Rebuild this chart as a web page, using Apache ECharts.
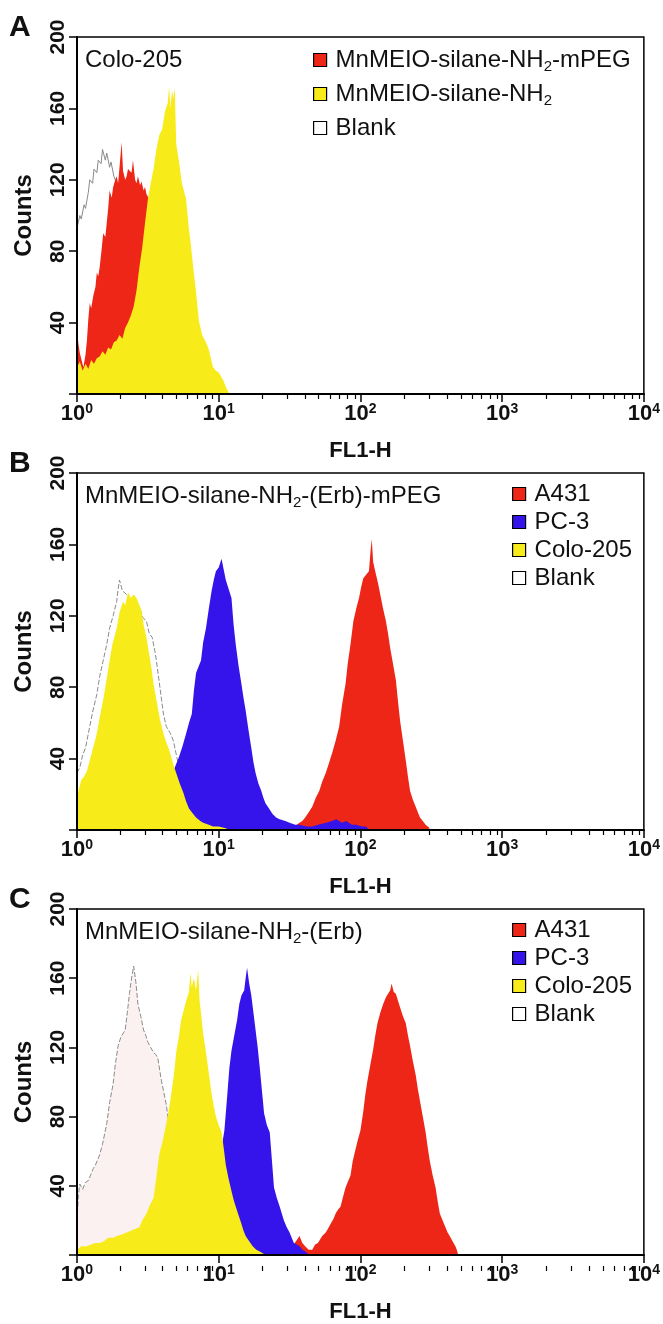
<!DOCTYPE html>
<html><head><meta charset="utf-8">
<script src="https://cdn.jsdelivr.net/npm/echarts@6/dist/echarts.min.js"></script>
<style>html,body{margin:0;padding:0;background:#fff}#c{width:663px;height:1324px}</style>
</head><body><div id="c"></div><script>
// Each series: pairs [log10(FL1-H), Counts]
const a_blank = [[0,93],[0.02,100],[0.03,98],[0.05,106],[0.06,104],[0.08,113],[0.09,120],[0.11,118],[0.12,126],[0.14,124],[0.15,131],[0.17,129],[0.18,137],[0.20,131],[0.21,135],[0.23,127],[0.24,130],[0.26,122],[0.28,118],[0.30,110],[0.35,92],[0.40,62],[0.50,30],[0.60,10],[0.70,0]];
const a_mpeg = [[0,36],[0.01,28],[0.02,23],[0.035,18],[0.045,15],[0.06,22],[0.07,30],[0.08,42],[0.09,51],[0.10,48],[0.115,55],[0.13,60],[0.14,68],[0.15,66],[0.16,71],[0.175,82],[0.185,90],[0.20,88],[0.21,96],[0.22,104],[0.23,114],[0.245,110],[0.255,116],[0.27,120],[0.28,122],[0.29,118],[0.30,127],[0.315,141],[0.325,125],[0.34,120],[0.35,122],[0.36,126],[0.37,127],[0.385,124],[0.395,131],[0.41,120],[0.42,118],[0.43,122],[0.445,117],[0.455,119],[0.47,114],[0.48,116],[0.49,112],[0.51,109],[0.55,100],[0.60,80],[0.65,50],[0.70,25],[0.75,8],[0.80,0]];
const a_nh2 = [[0,15],[0.02,18],[0.04,13],[0.06,17],[0.08,14],[0.10,19],[0.12,17],[0.14,20],[0.16,21],[0.18,24],[0.20,22],[0.22,26],[0.24,25],[0.26,29],[0.28,30],[0.30,33],[0.32,31],[0.34,37],[0.36,40],[0.38,44],[0.40,49],[0.42,58],[0.44,71],[0.46,82],[0.48,96],[0.50,109],[0.52,118],[0.54,126],[0.56,137],[0.58,145],[0.60,148],[0.62,158],[0.64,163],[0.65,172],[0.66,160],[0.67,170],[0.68,166],[0.69,171],[0.70,140],[0.72,130],[0.74,118],[0.76,112],[0.77,109],[0.79,92],[0.80,86],[0.82,71],[0.84,57],[0.86,41],[0.88,34],[0.89,32],[0.91,29],[0.93,25],[0.96,15],[0.98,13],[1.00,12],[1.03,8],[1.05,4],[1.075,0]];

const b_blank = [[0,32],[0.02,35],[0.04,42],[0.06,46],[0.09,58],[0.11,66],[0.14,76],[0.16,86],[0.185,95],[0.21,104],[0.23,113],[0.255,120],[0.28,128],[0.29,135],[0.30,140],[0.32,134],[0.35,132],[0.37,128],[0.40,130],[0.42,124],[0.44,125],[0.465,119],[0.49,117],[0.51,110],[0.53,108],[0.55,100],[0.56,95],[0.585,80],[0.61,65],[0.63,58],[0.66,54],[0.68,50],[0.72,35],[0.78,18],[0.85,6],[0.95,0]];
const b_colo = [[0,17],[0.01,22],[0.03,28],[0.05,30],[0.07,33],[0.09,39],[0.11,45],[0.14,54],[0.16,63],[0.185,73],[0.21,85],[0.23,95],[0.25,104],[0.28,113],[0.30,122],[0.325,128],[0.34,126],[0.36,133],[0.38,130],[0.40,132],[0.42,130],[0.44,126],[0.455,123],[0.47,115],[0.49,108],[0.51,98],[0.525,91],[0.54,82],[0.56,73],[0.585,62],[0.61,54],[0.63,49],[0.65,45],[0.675,38],[0.70,32],[0.725,26],[0.75,21],[0.77,16],[0.79,12],[0.82,9],[0.84,7],[0.87,5],[0.89,4],[0.93,3],[0.96,2],[1.0,2],[1.05,1],[1.07,0]];
const b_pc3 = [[0.40,0],[0.45,3],[0.50,6],[0.55,10],[0.60,18],[0.65,28],[0.69,35],[0.72,41],[0.745,47],[0.77,54],[0.79,60],[0.81,65],[0.825,78],[0.84,88],[0.86,92],[0.875,95],[0.89,105],[0.91,113],[0.93,124],[0.95,134],[0.965,140],[0.98,145],[1.0,147],[1.02,152],[1.035,146],[1.05,140],[1.07,135],[1.09,130],[1.105,115],[1.12,104],[1.14,92],[1.16,82],[1.175,74],[1.19,67],[1.21,56],[1.23,46],[1.245,38],[1.26,32],[1.28,26],[1.30,22],[1.315,18],[1.33,15],[1.355,12],[1.38,9],[1.405,7],[1.43,6],[1.47,5],[1.50,4],[1.54,3],[1.57,3],[1.62,2],[1.66,2],[1.70,3],[1.76,4],[1.80,5],[1.83,6],[1.87,4],[1.90,5],[1.94,3],[1.97,3],[2.01,2],[2.04,2],[2.06,0]];
const b_a431 = [[1.50,0],[1.52,1],[1.55,3],[1.57,4],[1.59,5],[1.61,7],[1.635,10],[1.66,13],[1.685,18],[1.71,22],[1.73,27],[1.755,32],[1.78,38],[1.80,43],[1.825,50],[1.85,58],[1.87,70],[1.895,82],[1.91,93],[1.93,104],[1.95,117],[1.97,124],[1.99,130],[2.005,136],[2.02,141],[2.04,143],[2.06,145],[2.07,155],[2.08,163],[2.09,150],[2.11,143],[2.125,138],[2.14,132],[2.16,124],[2.18,117],[2.195,110],[2.21,102],[2.23,93],[2.25,84],[2.265,72],[2.28,61],[2.30,50],[2.32,39],[2.335,30],[2.35,22],[2.37,17],[2.39,13],[2.405,10],[2.42,7],[2.44,5],[2.46,3],[2.49,1],[2.50,0]];

const c_blank = [[0,20],[0.01,35],[0.02,41],[0.04,38],[0.06,42],[0.08,43],[0.10,47],[0.115,50],[0.13,52],[0.16,58],[0.18,64],[0.21,76],[0.23,88],[0.255,99],[0.27,110],[0.29,121],[0.31,126],[0.34,130],[0.355,140],[0.37,151],[0.385,160],[0.40,167],[0.415,158],[0.43,145],[0.45,138],[0.47,130],[0.485,127],[0.50,123],[0.52,120],[0.54,117],[0.555,116],[0.57,114],[0.595,101],[0.61,95],[0.63,87],[0.65,74],[0.68,60],[0.72,45],[0.78,28],[0.85,14],[0.92,6],[1.0,2],[1.1,0]];
const c_colo = [[0,3],[0.03,5],[0.07,5],[0.10,6],[0.13,7],[0.16,7],[0.19,8],[0.22,10],[0.255,10],[0.28,11],[0.32,12],[0.35,13],[0.38,14],[0.41,15],[0.44,16],[0.46,20],[0.49,24],[0.51,28],[0.54,33],[0.56,45],[0.58,58],[0.605,66],[0.63,76],[0.65,85],[0.665,93],[0.685,105],[0.70,117],[0.72,127],[0.735,136],[0.755,142],[0.77,147],[0.79,152],[0.80,163],[0.81,155],[0.825,160],[0.84,153],[0.855,165],[0.865,147],[0.875,140],[0.89,128],[0.91,117],[0.93,105],[0.95,93],[0.965,86],[0.98,80],[1.00,75],[1.02,71],[1.035,62],[1.05,52],[1.07,44],[1.09,37],[1.105,32],[1.12,28],[1.14,23],[1.16,18],[1.175,14],[1.19,11],[1.215,8],[1.24,5],[1.265,3],[1.29,2],[1.33,0]];
const c_pc3 = [[0.80,0],[0.85,5],[0.90,15],[0.95,30],[1.00,50],[1.02,62],[1.04,72],[1.06,92],[1.075,108],[1.09,118],[1.11,127],[1.13,136],[1.145,145],[1.16,150],[1.18,153],[1.19,160],[1.20,166],[1.215,157],[1.23,150],[1.245,140],[1.26,130],[1.275,120],[1.29,108],[1.305,95],[1.32,82],[1.34,75],[1.36,71],[1.375,55],[1.39,39],[1.41,33],[1.43,28],[1.445,24],[1.46,20],[1.48,16],[1.50,13],[1.515,10],[1.53,7],[1.55,6],[1.57,5],[1.59,3],[1.61,2],[1.64,0]];
const c_a431 = [[1.50,0],[1.52,5],[1.545,8],[1.57,11],[1.59,7],[1.61,5],[1.635,3],[1.66,3],[1.68,6],[1.70,7],[1.715,9],[1.73,11],[1.755,13],[1.77,15],[1.79,18],[1.81,21],[1.825,24],[1.84,26],[1.86,28],[1.875,33],[1.895,39],[1.91,42],[1.93,46],[1.945,54],[1.965,61],[1.98,66],[2.00,72],[2.02,83],[2.035,93],[2.05,101],[2.07,110],[2.09,119],[2.105,127],[2.12,134],[2.14,140],[2.16,145],[2.18,149],[2.195,151],[2.21,153],[2.22,157],[2.235,152],[2.25,151],[2.265,147],[2.28,143],[2.30,138],[2.32,134],[2.335,127],[2.35,121],[2.37,112],[2.39,104],[2.405,96],[2.42,89],[2.44,80],[2.46,71],[2.475,62],[2.49,54],[2.51,46],[2.53,39],[2.545,31],[2.56,24],[2.58,20],[2.60,16],[2.615,13],[2.63,11],[2.65,8],[2.67,5],[2.68,3],[2.69,0]];

const xMin = 1, xMax = 10000;          // FL1-H range (10^0 .. 10^4)
const yMin = 0, yMax = 200, yStep = 40; // Counts
const minorMultipliers = [2,3,4,5,6,7,8,9];
const panelLetters = ['A','B','C'];
const panelLabels = ['Colo-205', 'MnMEIO-silane-NH{sub|2}-(Erb)-mPEG', 'MnMEIO-silane-NH{sub|2}-(Erb)'];

const RED = '#ed2617', BLUE = '#3414ea', YELLOW = '#f7ec1a', GRAY = '#8a8a8a';
const FONT = 'Liberation Sans, Arial, sans-serif';

// layout
const GL = 77, GW = 569, GH = 357;
const tops = [37, 473, 909];
const legendLefts = [313, 512, 512];

const panelSeries = [
  [ {name:'Blank', d:a_blank, color:GRAY, fill:null, dash:'solid'},
    {name:'MnMEIO-silane-NH2-mPEG', d:a_mpeg, color:RED, fill:RED},
    {name:'MnMEIO-silane-NH2', d:a_nh2, color:YELLOW, fill:YELLOW} ],
  [ {name:'Blank', d:b_blank, color:GRAY, fill:null, dash:[5,2]},
    {name:'A431', d:b_a431, color:RED, fill:RED},
    {name:'PC-3', d:b_pc3, color:BLUE, fill:BLUE},
    {name:'Colo-205', d:b_colo, color:YELLOW, fill:YELLOW} ],
  [ {name:'Blank', d:c_blank, color:GRAY, fill:'#fcf1f1', dash:[5,2]},
    {name:'A431', d:c_a431, color:RED, fill:RED},
    {name:'PC-3', d:c_pc3, color:BLUE, fill:BLUE},
    {name:'Colo-205', d:c_colo, color:YELLOW, fill:YELLOW} ]
];
const legendOrders = [
  [['MnMEIO-silane-NH2-mPEG',RED],['MnMEIO-silane-NH2',YELLOW],['Blank','#fff']],
  [['A431',RED],['PC-3',BLUE],['Colo-205',YELLOW],['Blank','#fff']],
  [['A431',RED],['PC-3',BLUE],['Colo-205',YELLOW],['Blank','#fff']]
];

const minorTicks = [];
for (let n = 0; n < 4; n++) minorMultipliers.forEach(k => minorTicks.push(n + Math.log10(k)));

const grid = [], xAxis = [], yAxis = [], series = [], title = [], legend = [];
const subRich = { sub: { fontSize: 15, fontFamily: FONT, color: '#111', verticalAlign: 'bottom', lineHeight: 16 } };

tops.forEach((top, i) => {
  grid.push({ left: GL, width: GW, top: top, height: GH, show: true, borderColor: '#000', borderWidth: 1.5, backgroundColor: 'transparent', z: 20 });
  xAxis.push({
    type: 'log', logBase: 10, gridIndex: i, min: xMin, max: xMax, z: 30,
    name: 'FL1-H', nameLocation: 'middle', nameGap: 46,
    nameTextStyle: { fontFamily: FONT, fontWeight: 'bold', fontSize: 22, color: '#111' },
    axisLine: { show: true, lineStyle: { color: '#000', width: 2 } },
    axisTick: { show: true, inside: false, length: 8, lineStyle: { color: '#000', width: 1.5 } },
    splitLine: { show: false }, minorTick: { show: false },
    axisLabel: {
      show: true, margin: 8, showMinLabel: true, showMaxLabel: true,
      formatter: v => '10{sup|' + Math.round(Math.log10(v)) + '}',
      fontFamily: FONT, fontWeight: 'bold', fontSize: 22, color: '#111', lineHeight: 24,
      rich: { sup: { fontFamily: FONT, fontWeight: 'bold', fontSize: 14, color: '#111', verticalAlign: 'top', lineHeight: 14 } }
    }
  });
  yAxis.push({
    type: 'value', gridIndex: i, min: yMin, max: yMax, interval: yStep, z: 30,
    name: 'Counts', nameLocation: 'middle', nameGap: 41, nameRotate: 90,
    nameTextStyle: { fontFamily: FONT, fontWeight: 'bold', fontSize: 24, color: '#111' },
    axisLine: { show: true, lineStyle: { color: '#000', width: 2 } },
    axisTick: { show: true, inside: false, length: 8, lineStyle: { color: '#000', width: 1.5 } },
    splitLine: { show: false },
    axisLabel: { rotate: 90, margin: 8, formatter: v => v === 0 ? '' : String(v), fontFamily: FONT, fontWeight: 'bold', fontSize: 21, color: '#111' }
  });
  title.push({ text: panelLetters[i], left: 9, top: top - 24, padding: 0, textStyle: { fontFamily: FONT, fontWeight: 'bold', fontSize: 30, color: '#111' } });
  title.push({ text: panelLabels[i], left: 85, top: top + 9, padding: 0, textStyle: { fontFamily: FONT, fontWeight: 'normal', fontSize: 24, color: '#111', lineHeight: 28, rich: subRich } });
  legend.push({
    orient: 'vertical', left: legendLefts[i], top: top + 9, padding: 0, icon: 'rect', itemWidth: 13, itemHeight: 13,
    itemGap: i === 0 ? 6 : 4, selectedMode: false,
    itemStyle: { borderColor: '#000', borderWidth: 1.2 },
    textStyle: { fontFamily: FONT, fontSize: 24, color: '#111', lineHeight: i === 0 ? 28 : 24, padding: [0, 0, 0, 4], rich: subRich },
    formatter: n => n.replace('NH2', 'NH{sub|2}'),
    data: legendOrders[i].map(([n, c]) => ({ name: n, itemStyle: { color: c, borderColor: '#000', borderWidth: 1.2 } }))
  });
  panelSeries[i].forEach((s, j) => {
    series.push({
      type: 'line', name: s.name, xAxisIndex: i, yAxisIndex: i, silent: true,
      symbol: 'none', showSymbol: false, smooth: false, z: 2 + j,
      data: s.d.map(p => [Math.pow(10, p[0]), p[1]]),
      color: s.color,
      lineStyle: s.fill && s.name !== 'Blank' ? { width: 0 } : { color: s.color, width: 1, type: s.dash },
      areaStyle: s.fill ? { color: s.fill, opacity: 1 } : undefined
    });
  });
});
// overlay grids carrying the minor (2..9 x 10^n) ticks
tops.forEach((top, i) => {
  grid.push({ left: GL, width: GW, top: top, height: GH, show: false });
  xAxis.push({
    type: 'value', gridIndex: 3 + i, min: 0, max: 4, z: 30,
    axisLine: { show: false }, axisLabel: { show: false }, splitLine: { show: false },
    axisTick: { show: true, inside: false, length: 5, customValues: minorTicks, lineStyle: { color: '#000', width: 1.2 } }
  });
  yAxis.push({ type: 'value', gridIndex: 3 + i, min: 0, max: 1, show: false });
});

const chart = echarts.init(document.getElementById('c'), null, { renderer: 'canvas' });
chart.setOption({ animation: false, backgroundColor: '#fff', grid, xAxis, yAxis, series, title, legend });
</script></body></html>
